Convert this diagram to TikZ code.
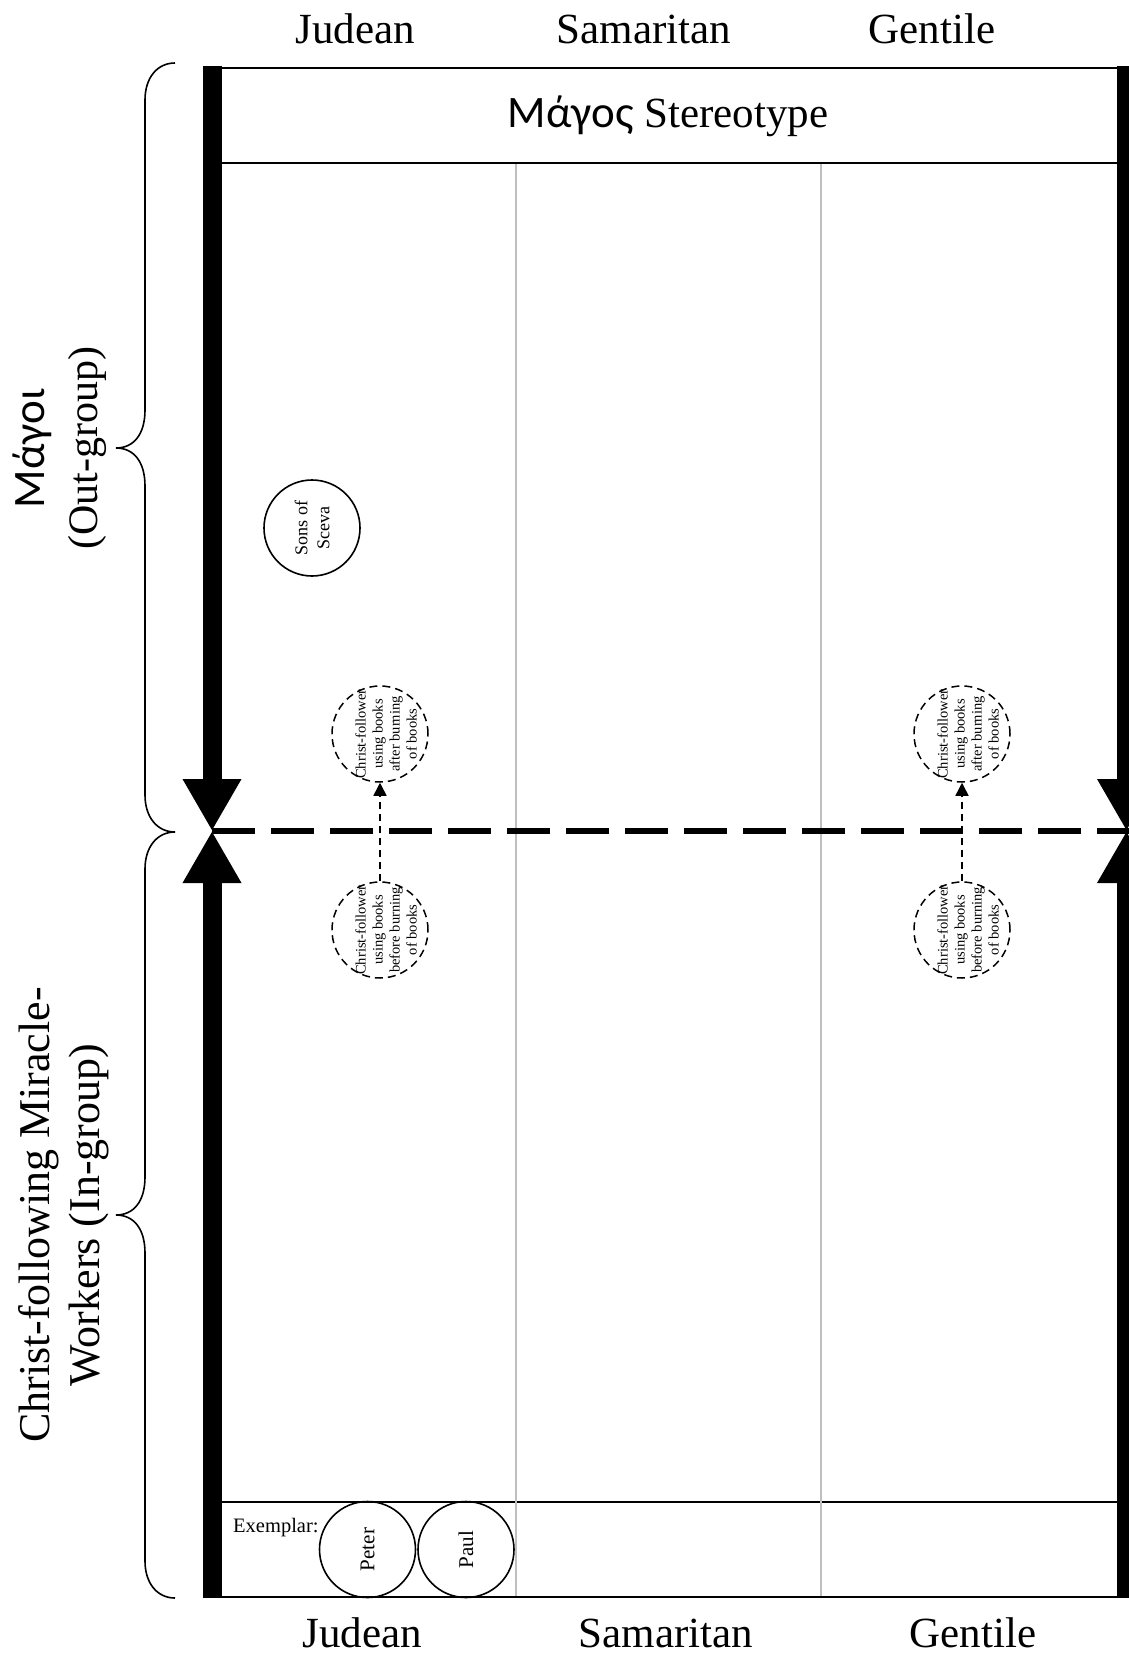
\documentclass[tikz,border=0pt]{standalone}
\usepackage{fontspec}
\setmainfont{Liberation Serif}
\newfontfamily\grk{Carlito}
\usetikzlibrary{arrows.meta}
\begin{document}
\begin{tikzpicture}[x=1pt,y=-1pt,
  framel/.style={line width=2pt,black},
  divider/.style={line width=2pt,black!25},
  bigarrow/.style={line width=19pt,-{Triangle[length=52pt,width=55pt]}},
  bigdash/.style={line width=6.5pt,dash pattern=on 43pt off 16pt},
  bracel/.style={line width=1.6pt},
  biglab/.style={font=\fontsize{43}{54}\selectfont,inner sep=0pt},
  sidelab/.style={font=\fontsize{42}{53}\selectfont,align=center,rotate=90,inner sep=0pt},
  solidcirc/.style={circle,draw,line width=1.6pt,minimum size=96pt,inner sep=0pt},
  dashcirc/.style={circle,draw,line width=1.5pt,dash pattern=on 8pt off 5pt,minimum size=96pt,inner sep=0pt},
  smalltext/.style={font=\fontsize{14.5}{17}\selectfont,align=center,rotate=90,inner sep=0pt},
  midtext/.style={font=\fontsize{18}{22}\selectfont,align=center,rotate=90,inner sep=0pt},
  nametext/.style={font=\fontsize{21}{25}\selectfont,rotate=90,inner sep=0pt},
  dasharrow/.style={line width=1.5pt,dash pattern=on 7pt off 5pt,-{Triangle[length=13pt,width=13pt]}}
]
\useasboundingbox (0,0) rectangle (1128,1653);

% frame lines
\draw[framel] (212,68) -- (1126,68);
\draw[framel] (212,163) -- (1126,163);
\draw[framel] (212,1502) -- (1126,1502);
\draw[framel] (212,1597) -- (1126,1597);
\draw[divider] (515.5,164) -- (515.5,1596);
\draw[divider] (821,164) -- (821,1596);

% coordinates of the thick arrows
\coordinate (TL) at (212,66);
\coordinate (ML) at (212,831);
\coordinate (BL) at (212,1598);
\coordinate (TR) at (1126.5,66);
\coordinate (MR) at (1126.5,831);
\coordinate (BR) at (1126.5,1598);
\coordinate (ME) at (1132,831);

% dashed boundary
\draw[bigdash] (ML) -- (ME);

% thick arrows
\draw[bigarrow] (TL) -- (ML);
\draw[bigarrow] (BL) -- (ML);
\draw[bigarrow] (TR) -- (MR);
\draw[bigarrow] (BR) -- (MR);

% braces
\draw[bracel] (175,63) .. controls (157,63) and (145,78) .. (145,100) -- (145,410)
  .. controls (145,434) and (134,448) .. (116,448)
  .. controls (134,448) and (145,462) .. (145,486) -- (145,795)
  .. controls (145,817) and (157,832) .. (175,832);
\draw[bracel] (175,832) .. controls (157,832) and (145,847) .. (145,869) -- (145,1177)
  .. controls (145,1201) and (134,1215) .. (116,1215)
  .. controls (134,1215) and (145,1229) .. (145,1253) -- (145,1561)
  .. controls (145,1583) and (157,1598) .. (175,1598);

% column labels
\node[biglab,anchor=base] (tj) at (355,44) {Judean};
\node[biglab,anchor=base] (ts) at (644,44) {Samaritan};
\node[biglab,anchor=base] (tg) at (932,44) {Gentile};
\node[biglab,anchor=base] (bj) at (362,1647) {Judean};
\node[biglab,anchor=base] (bs) at (666,1647) {Samaritan};
\node[biglab,anchor=base] (bg) at (973,1647) {Gentile};

% header
\node[biglab,anchor=base] (head) at (668,128) {{\grk\fontsize{45}{54}\selectfont Μάγος} Stereotype};

% side labels
\node[sidelab] (outg) at (60,448) {{\grk\fontsize{45}{53}\selectfont Μάγοι}\\(Out-group)};
\node[sidelab,font=\fontsize{44}{50}\selectfont] (ing) at (64,1215) {Christ-following Miracle-\\Workers (In-group)};

% Sons of Sceva
\node[solidcirc,rotate=90] (sons) at (312,528) {};
\node[midtext] (sonst) at (sons) {Sons of\\Sceva};

% dashed circles
\node[dashcirc] (jt) at (380,734) {};
\node[dashcirc] (jb) at (380,930) {};
\node[dashcirc] (gt) at (962,734) {};
\node[dashcirc] (gb) at (962,930) {};
\node[smalltext] (jtt) at ([xshift=6pt]jt.center) {Christ-follower\\using books\\after burning\\of books};
\node[smalltext] (jbt) at ([xshift=6pt]jb.center) {Christ-follower\\using books\\before burning\\of books};
\node[smalltext] (gtt) at ([xshift=6pt]gt.center) {Christ-follower\\using books\\after burning\\of books};
\node[smalltext] (gbt) at ([xshift=6pt]gb.center) {Christ-follower\\using books\\before burning\\of books};
\draw[dasharrow] (jb.north) -- (jt.south);
\draw[dasharrow] (gb.north) -- (gt.south);

% exemplar row
\node[font=\fontsize{20.5}{24}\selectfont,anchor=base west,inner sep=0pt] (ex) at (233,1532) {Exemplar:};
\node[solidcirc] (peter) at (367.5,1549.5) {};
\node[solidcirc] (paul) at (466,1549.5) {};
\node[nametext] (petert) at (peter) {Peter};
\node[nametext] (pault) at (paul) {Paul};
\end{tikzpicture}
\end{document}
